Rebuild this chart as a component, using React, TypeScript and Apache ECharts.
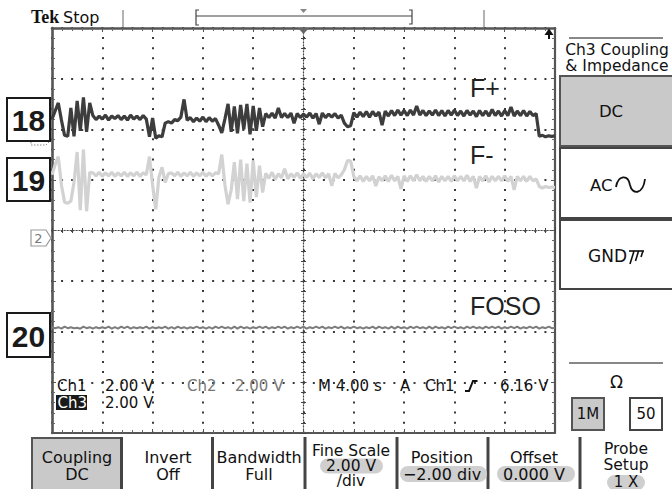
import React, { useEffect, useRef } from "react";
import * as echarts from "echarts";

// ---- acquisition settings (M 4.00 s / div, 10 divisions, 8 vertical divisions)
const START_TIME_S = -20;
const SAMPLE_STEP_S = 0.25;
const TIME_MIN = -20;
const TIME_MAX = 20;
const TIME_PER_DIV = 4;
const DIV_MIN = -4;
const DIV_MAX = 4;

// ---- trace values, in screen divisions, one sample every 0.25 s
const F_PLUS = [
  2.20, 2.36, 2.52, 2.18, 1.88, 1.86, 2.42, 1.86, 2.56, 1.97, 2.63, 1.95, 2.52,
  2.27, 2.19, 2.26, 2.20, 2.28, 2.18, 2.26, 2.21, 2.27, 2.19, 2.26, 2.18, 2.28, 2.20, 2.26, 2.19, 2.27, 2.20,
  1.85, 2.22, 1.82, 1.87, 1.85, 2.12, 2.15, 2.12, 2.19, 2.17, 2.24, 2.59, 2.18,
  2.23, 2.15, 2.22, 2.16, 2.24, 2.15, 2.23, 2.16, 2.21,
  2.08, 1.93, 2.20, 2.50, 1.95,
  2.45, 1.92, 2.48, 2.00, 2.50, 1.90, 2.46, 1.97, 2.42, 2.05,
  2.31, 2.23, 2.32, 2.22, 2.42, 2.23, 2.31, 2.23, 2.32, 2.12, 2.31, 2.23, 2.30, 2.24, 2.32, 2.22, 2.31, 2.10, 2.32, 2.23, 2.30, 2.24, 2.31, 2.22, 2.28,
  2.12, 2.05, 2.07,
  2.33, 2.24, 2.34, 2.25, 2.35, 2.24, 2.35, 2.26, 2.34, 2.08,
  2.36, 2.26, 2.37, 2.27, 2.38, 2.28, 2.37, 2.27, 2.38, 2.28,
  2.46, 2.28, 2.37, 2.27, 2.36, 2.28, 2.38, 2.27, 2.37, 2.26,
  2.37, 2.28, 2.38, 2.27, 2.36, 2.26, 2.37, 2.28, 2.36, 2.25,
  2.37, 2.27, 2.36, 2.26, 2.39, 2.27, 2.36, 2.26, 2.37, 2.27,
  2.44, 2.26, 2.36, 2.27, 2.37, 2.26, 2.35, 2.27, 2.31,
  1.86, 1.88, 1.85, 1.87, 1.86, 1.87,
];

const F_MINUS = [
  1.10, 1.30, 1.46, 0.90, 0.56, 0.54, 0.58, 0.95, 1.55, 0.40, 1.60, 0.38, 1.15,
  1.14, 1.08, 1.15, 1.07, 1.14, 1.08, 1.15, 1.07, 1.14, 1.08, 1.15, 1.07, 1.14, 1.08, 1.15, 1.07, 1.14, 1.10,
  1.46, 0.90, 0.42, 1.05, 1.25, 0.95, 1.12,
  1.14, 1.08, 1.15, 1.07, 1.14, 1.08, 1.15, 1.07, 1.14, 1.08, 1.15, 1.07, 1.14, 1.08, 1.14, 1.12,
  1.50, 0.90, 0.52, 0.80,
  1.35, 0.62, 1.40, 0.58, 1.32, 0.55, 1.38, 0.66, 1.28, 0.75,
  1.13, 1.03, 1.15, 1.01, 1.12, 1.04, 1.22, 1.02, 1.12, 1.05, 1.14, 1.03, 1.12, 1.05, 1.13, 1.02, 1.12, 1.05, 1.14, 1.04, 1.12, 0.88, 1.13, 1.04, 1.10,
  1.20, 1.38, 1.37,
  1.07, 0.98, 1.08, 0.97, 1.07, 0.98, 1.08, 0.88, 1.06, 0.98,
  1.08, 0.97, 1.09, 0.98, 1.07, 0.82, 1.08, 0.97, 1.08, 0.98,
  1.10, 0.98, 1.07, 0.97, 1.07, 0.98, 1.08, 0.96, 1.07, 0.98,
  1.07, 0.97, 1.08, 0.98, 1.07, 0.98, 1.09, 0.97, 1.07, 0.84,
  1.07, 0.98, 1.08, 0.96, 1.07, 0.98, 1.07, 0.98, 1.08, 0.97,
  1.07, 0.80, 1.07, 0.98, 1.07, 0.97, 1.07, 0.98, 1.02,
  0.87, 0.84, 0.87, 0.85, 0.86, 0.85,
];

const FOSO = [
  -1.91, -1.93, -1.91, -1.94, -1.90, -1.93, -1.91, -1.93, -1.92, -1.94,
  -1.90, -1.93, -1.91, -1.94, -1.91, -1.93, -1.91, -1.93, -1.90, -1.94,
  -1.91, -1.94, -1.90, -1.93, -1.90, -1.94, -1.91, -1.93, -1.91, -1.93,
  -1.90, -1.94, -1.91, -1.93, -1.91, -1.93, -1.90, -1.94, -1.91, -1.94,
  -1.90, -1.93, -1.91, -1.94, -1.91, -1.93, -1.90, -1.93, -1.91, -1.94,
  -1.91, -1.94, -1.90, -1.93, -1.90, -1.93, -1.91, -1.94, -1.90, -1.94,
  -1.90, -1.93, -1.91, -1.94, -1.91, -1.93, -1.90, -1.93, -1.90, -1.94,
  -1.91, -1.93, -1.90, -1.93, -1.90, -1.94, -1.91, -1.93, -1.90, -1.93,
  -1.90, -1.94, -1.91, -1.93, -1.90, -1.93, -1.90, -1.94, -1.91, -1.93,
  -1.90, -1.93, -1.90, -1.94, -1.91, -1.93, -1.90, -1.93, -1.91, -1.94,
  -1.91, -1.93, -1.90, -1.94, -1.90, -1.93, -1.91, -1.94, -1.90, -1.94,
  -1.90, -1.93, -1.91, -1.94, -1.90, -1.93, -1.90, -1.93, -1.91, -1.94,
  -1.90, -1.94, -1.90, -1.93, -1.91, -1.94, -1.90, -1.93, -1.90, -1.93,
  -1.91, -1.94, -1.90, -1.93, -1.90, -1.93, -1.91, -1.94, -1.90, -1.93,
  -1.90, -1.93, -1.90, -1.94, -1.91, -1.93, -1.90, -1.93, -1.90, -1.94,
  -1.91, -1.93, -1.90, -1.93, -1.90, -1.94, -1.91, -1.93, -1.90, -1.93,
  -1.92,
];

const TRACE_NAMES = ["F+", "F-", "FOSO"];
const PIN_NUMBERS = ["18", "19", "20"];
const CHANNEL_READOUT = ["Ch1", "2.00 V", "Ch2", "2.00 V", "M 4.00 s", "A", "Ch1", "6.16 V"];
const MENU_TITLES = ["Coupling", "Invert", "Bandwidth", "Fine Scale", "Position", "Offset", "Probe"];
const MENU_VALUES = ["DC", "Off", "Full", "2.00 V", "\u22122.00 div", "0.000 V", "1 X"];

const FONT = '"DejaVu Sans", Verdana, sans-serif';
const ARIAL = '"Liberation Sans", Arial, sans-serif';

function toXY(values: number[]) {
  return values.map((v, i) => [START_TIME_S + i * SAMPLE_STEP_S, v]);
}

function buildGraphic() {
  const g: any[] = [];
  const text = (x: number, y: number, t: string, o: any = {}) =>
    g.push({
      type: "text",
      x,
      y,
      silent: true,
      z: 20,
      style: {
        text: t,
        fill: o.fill || "#111",
        font: `${o.weight || "normal"} ${o.size || 15}px ${o.family || FONT}`,
        textAlign: o.align || "left",
        align: o.align || "left",
        textVerticalAlign: "middle",
        verticalAlign: "middle",
      },
    });
  const rect = (x: number, y: number, w: number, h: number, style: any, r = 0, z = 15) =>
    g.push({ type: "rect", silent: true, z, shape: { x, y, width: w, height: h, r }, style });
  const line = (x1: number, y1: number, x2: number, y2: number, stroke: string, lineWidth = 1) =>
    g.push({ type: "line", silent: true, z: 16, shape: { x1, y1, x2, y2 }, style: { stroke, lineWidth } });
  const poly = (points: number[][], style: any, closed = false, z = 16) =>
    g.push({ type: closed ? "polygon" : "polyline", silent: true, z, shape: { points }, style });

  // header
  text(31, 17, "Tek", { size: 18, weight: "bold", family: '"Liberation Serif", serif' });
  text(63, 17, "Stop", { size: 16 });
  line(123, 10, 123, 27, "#9a9a9a", 1.5);
  line(484, 10, 484, 27, "#9a9a9a", 1.5);
  line(196, 16, 412, 16, "#444", 1.2);
  poly([[199, 10], [196, 10], [196, 25], [199, 25]], { stroke: "#444", lineWidth: 1.2, fill: null });
  poly([[409, 10], [412, 10], [412, 24], [409, 24]], { stroke: "#444", lineWidth: 1.2, fill: null });
  poly([[300, 9], [307, 9], [303.5, 13]], { fill: "#888" }, true);
  // trigger position marker & arrow on graticule top
  poly([[298, 28], [309, 28], [303.5, 34]], { fill: "#666" }, true, 30);
  poly([[544.5, 35], [553.5, 35], [549, 28.5]], { fill: "#111" }, true, 30);
  line(549, 34, 549, 39, "#111", 2);

  // pin boxes
  const pinBoxes = [[7, 98, 43, 43], [7, 158, 43, 43], [7, 313, 43, 44]];
  pinBoxes.forEach(([x, y, w, h], i) => {
    rect(x, y, w, h, { fill: "#fff", stroke: "#1a1a1a", lineWidth: 2 });
    text(x + w / 2, y + h / 2 + 1, PIN_NUMBERS[i], { size: 30, weight: "bold", family: ARIAL, align: "center", fill: "#1a1a1a" });
  });
  // ch1 / ch2 ground markers
  poly([[31, 139], [31, 145], [46, 145], [50, 141]], { stroke: "#888", lineWidth: 1, lineDash: [1.5, 1.5], fill: null }, false, 14);
  poly([[31, 230], [46, 230], [51, 238], [46, 246], [31, 246]], { stroke: "#999", lineWidth: 1.2, fill: "#fff" }, true, 14);
  text(38.5, 238.5, "2", { size: 13, fill: "#777", align: "center" });

  // trace names
  text(470, 88, TRACE_NAMES[0], { size: 25, family: ARIAL, fill: "#222" });
  text(470, 155, TRACE_NAMES[1], { size: 25, family: ARIAL, fill: "#222" });
  text(470, 306, TRACE_NAMES[2], { size: 25, family: ARIAL, fill: "#222" });

  // readout
  const readX = [57, 105, 187, 235, 318, 400, 425, 500];
  const readFill = ["#111", "#111", "#777", "#777", "#111", "#111", "#111", "#111"];
  CHANNEL_READOUT.forEach((t, i) => text(readX[i], 386, t, { size: 15, fill: readFill[i] }));
  poly([[465, 391], [469, 391], [473, 381], [477.5, 381]], { stroke: "#111", lineWidth: 2, fill: null }, false, 20);
  rect(56, 395, 31, 15, { fill: "#1a1a1a" }, 0, 19);
  text(57.5, 402.5, "Ch3", { size: 15, fill: "#fff" });
  text(105, 402.5, "2.00 V", { size: 15 });

  // right side menu
  line(569, 38, 663, 38, "#888", 2);
  text(617, 50, "Ch3 Coupling", { size: 15.5, align: "center" });
  text(617, 66, "& Impedance", { size: 15.5, align: "center" });
  rect(560, 76, 116, 70, { fill: "#c9c9c9", stroke: "#555", lineWidth: 2 });
  rect(560, 148, 116, 70, { fill: "#fff", stroke: "#444", lineWidth: 2 });
  rect(560, 220, 116, 69, { fill: "#fff", stroke: "#444", lineWidth: 2 });
  text(611, 111, "DC", { size: 16.5, align: "center" });
  text(590, 185, "AC", { size: 16.5 });
  g.push({ type: "bezierCurve", silent: true, z: 20, shape: { x1: 616, y1: 187, x2: 630, y2: 185, cpx1: 618, cpy1: 175, cpx2: 628, cpy2: 174 }, style: { stroke: "#111", lineWidth: 1.8, fill: null } });
  g.push({ type: "bezierCurve", silent: true, z: 20, shape: { x1: 630, y1: 185, x2: 645, y2: 179, cpx1: 632, cpy1: 195, cpx2: 643, cpy2: 195 }, style: { stroke: "#111", lineWidth: 1.8, fill: null } });
  text(588, 255.5, "GND", { size: 17 });
  line(629, 251, 644, 251, "#111", 1.6);
  line(634, 251, 630, 264, "#111", 1.6);
  line(638.5, 251, 635.5, 261, "#111", 1.6);
  line(643, 251, 641, 257, "#111", 1.6);
  line(569, 363, 663, 363, "#888", 2);
  text(616.5, 382, "\u03A9", { size: 17, align: "center" });
  rect(572, 398, 32, 32, { fill: "#c9c9c9", stroke: "#555", lineWidth: 2 });
  rect(630, 398, 32, 32, { fill: "#fff", stroke: "#444", lineWidth: 2 });
  text(588, 414, "1M", { size: 15, align: "center" });
  text(646, 414, "50", { size: 15, align: "center" });

  // bottom menu
  rect(32, 438, 90, 54, { fill: "#c9c9c9", stroke: "#555", lineWidth: 2 });
  [121.5, 212.5, 305, 397, 488, 580].forEach((x) => rect(x - 1.5, 437, 3, 52, { fill: "#444" }));
  const cx = [77, 168, 259, 351, 442, 534, 626];
  for (let i = 0; i < 3; i++) {
    text(cx[i], 457, MENU_TITLES[i], { size: 16, align: "center" });
    text(cx[i], 474, MENU_VALUES[i], { size: 16, align: "center" });
  }
  // Fine Scale
  text(cx[3], 450.5, MENU_TITLES[3], { size: 15.5, align: "center" });
  rect(320, 458.5, 63, 15, { fill: "#cfcfcf" }, 7.5);
  text(cx[3], 466, MENU_VALUES[3], { size: 15.5, align: "center" });
  text(cx[3], 481, "/div", { size: 15.5, align: "center" });
  // Position
  text(cx[4], 457, MENU_TITLES[4], { size: 16, align: "center" });
  rect(400, 466, 87, 16, { fill: "#cfcfcf" }, 8);
  text(cx[4], 474, MENU_VALUES[4], { size: 16, align: "center" });
  // Offset
  text(cx[5], 457, MENU_TITLES[5], { size: 16, align: "center" });
  rect(497, 466, 78, 16, { fill: "#cfcfcf" }, 8);
  text(cx[5], 474, MENU_VALUES[5], { size: 16, align: "center" });
  // Probe setup
  text(cx[6], 449, MENU_TITLES[6], { size: 15.5, align: "center" });
  text(cx[6], 465, "Setup", { size: 15.5, align: "center" });
  rect(607, 475, 38, 15, { fill: "#cfcfcf" }, 7.5);
  text(cx[6], 481.5, MENU_VALUES[6], { size: 15, align: "center" });
  return g;
}

function frameAxis(dim: "x" | "y", position: string, width: number, withSplit: boolean) {
  const isX = dim === "x";
  return {
    type: "value",
    min: isX ? TIME_MIN : DIV_MIN,
    max: isX ? TIME_MAX : DIV_MAX,
    interval: isX ? TIME_PER_DIV : 1,
    position,
    axisLine: { show: true, onZero: false, lineStyle: { color: "#555", width } },
    axisTick: { show: true, inside: true, length: 4, lineStyle: { color: "#555", width: 1 } },
    minorTick: { show: true, splitNumber: 5, length: 3, lineStyle: { color: "#666", width: 1 } },
    axisLabel: { show: false },
    splitLine: {
      show: withSplit,
      lineStyle: { color: "#3a3a3a", width: 2, type: isX ? [2, 8.12] : [2, 8.07], dashOffset: 1 },
    },
    minorSplitLine: { show: false },
  };
}

function centerAxis(dim: "x" | "y", inside: boolean, showLine: boolean) {
  const isX = dim === "x";
  return {
    type: "value",
    min: isX ? TIME_MIN : DIV_MIN,
    max: isX ? TIME_MAX : DIV_MAX,
    interval: isX ? TIME_PER_DIV : 1,
    position: isX ? "bottom" : "left",
    axisLine: { show: showLine, onZero: true, onZeroAxisIndex: 0, lineStyle: { color: "#444", width: 1.2, type: [1.2, 1.8] } },
    axisTick: { show: true, inside, length: 3, lineStyle: { color: "#444", width: 1 } },
    minorTick: { show: true, splitNumber: 5, length: 2.5, lineStyle: { color: "#444", width: 1 } },
    axisLabel: { show: false },
    splitLine: { show: false },
  };
}

export default function App() {
  const ref = useRef<HTMLDivElement>(null);
  useEffect(() => {
    if (!ref.current) return;
    const chart = echarts.init(ref.current, null, { renderer: "svg" });
    chart.setOption({
      animation: false,
      backgroundColor: "#ffffff",
      textStyle: { fontFamily: FONT },
      grid: { left: 52, top: 28, width: 503, height: 405, containLabel: false },
      xAxis: [
        frameAxis("x", "bottom", 2, true),
        frameAxis("x", "top", 2.6, false),
        centerAxis("x", true, true),
        centerAxis("x", false, false),
      ],
      yAxis: [
        frameAxis("y", "left", 2.6, true),
        frameAxis("y", "right", 2.2, false),
        centerAxis("y", true, true),
        centerAxis("y", false, false),
      ],
      series: [
        {
          name: TRACE_NAMES[1],
          type: "line",
          data: toXY(F_MINUS),
          showSymbol: false,
          symbol: "none",
          silent: true,
          z: 4,
          lineStyle: { color: "#d2d2d2", width: 3.2, join: "bevel" },
        },
        {
          name: TRACE_NAMES[0],
          type: "line",
          data: toXY(F_PLUS),
          showSymbol: false,
          symbol: "none",
          silent: true,
          z: 5,
          lineStyle: { color: "#3d3d3d", width: 3.2, join: "bevel" },
        },
        {
          name: TRACE_NAMES[2],
          type: "line",
          data: toXY(FOSO),
          showSymbol: false,
          symbol: "none",
          silent: true,
          z: 5,
          lineStyle: { color: "#7d7d7d", width: 2 },
        },
      ],
      graphic: buildGraphic(),
    });
    return () => chart.dispose();
  }, []);
  return (
    <div
      ref={ref}
      style={{ position: "absolute", left: 0, top: 0, width: 672, height: 489, background: "#fff" }}
    />
  );
}
